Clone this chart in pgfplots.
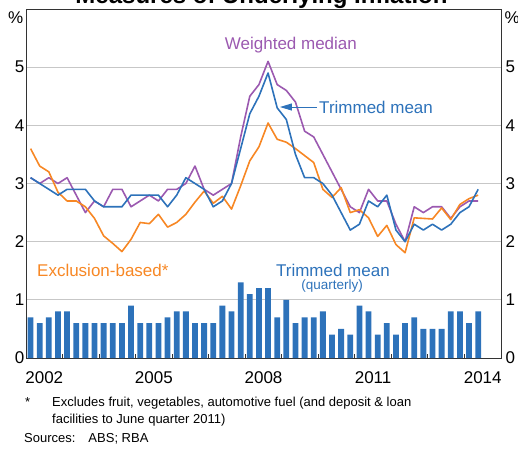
\documentclass[border=0pt]{standalone}
\usepackage{pgfplots}
\pgfplotsset{compat=1.18}
\usepackage{pgfplotstable}
\usepackage{fontspec}
\setmainfont{Liberation Sans}
\usetikzlibrary{arrows.meta}
\definecolor{rbablue}{RGB}{45,114,186}
\definecolor{rbapurple}{RGB}{155,89,176}
\definecolor{rbaorange}{RGB}{247,135,36}

\pgfplotstableread{
i tm wm ex q
0 3.1 3.1 3.6 0.7
1 3.0 3.0 3.3 0.6
2 2.9 3.1 3.2 0.7
3 2.8 3.0 2.85 0.8
4 2.9 3.1 2.7 0.8
5 2.9 2.8 2.7 0.6
6 2.9 2.5 2.6 0.6
7 2.7 2.7 2.4 0.6
8 2.6 2.6 2.1 0.6
9 2.6 2.9 1.97 0.6
10 2.6 2.9 1.83 0.6
11 2.8 2.6 2.04 0.9
12 2.8 2.7 2.33 0.6
13 2.8 2.8 2.31 0.6
14 2.8 2.7 2.47 0.6
15 2.6 2.9 2.25 0.7
16 2.8 2.9 2.33 0.8
17 3.1 3.0 2.47 0.8
18 3.0 3.3 2.68 0.6
19 2.9 2.9 2.87 0.6
20 2.6 2.8 2.66 0.6
21 2.7 2.9 2.78 0.9
22 3.0 3.0 2.56 0.8
23 3.6 3.8 2.96 1.3
24 4.2 4.5 3.39 1.1
25 4.5 4.7 3.63 1.2
26 4.9 5.1 4.04 1.2
27 4.3 4.7 3.76 0.7
28 4.1 4.6 3.71 1.0
29 3.5 4.4 3.6 0.6
30 3.1 3.9 3.48 0.7
31 3.1 3.8 3.36 0.7
32 3.0 3.5 2.9 0.8
33 2.8 3.2 2.76 0.4
34 2.5 2.9 2.93 0.5
35 2.2 2.6 2.5 0.4
36 2.3 2.5 2.55 0.9
37 2.7 2.9 2.41 0.8
38 2.6 2.7 2.09 0.4
39 2.8 2.7 2.28 0.6
40 2.2 2.3 1.95 0.4
41 2.0 2.0 1.81 0.6
42 2.3 2.6 2.41 0.7
43 2.2 2.5 2.4 0.5
44 2.3 2.6 2.39 0.5
45 2.2 2.6 2.58 0.5
46 2.3 2.4 2.38 0.8
47 2.5 2.6 2.64 0.8
48 2.6 2.7 2.74 0.6
49 2.9 2.7 2.8 0.8
}\data

\begin{document}
\begin{tikzpicture}[x=1pt,y=1pt]
\useasboundingbox (0,0) rectangle (518,-451);
\node[anchor=base, font=\fontsize{24}{24}\selectfont\bfseries, inner sep=0pt] at (261.5,-3.5) {Measures of Underlying Inflation};
\begin{axis}[
  at={(26pt,-358pt)}, anchor=south west,
  scale only axis, width=475pt, height=349pt,
  xmin=2002, xmax=2015, ymin=0, ymax=6,
  axis line style={black!80, line width=0.9pt},
  xtick={2002.5,2005.5,2008.5,2011.5,2014.5},
  xticklabels={2002,2005,2008,2011,2014},
  minor xtick={2003,2004,...,2014},
  xtick pos=left,
  ytick={0,1,2,3,4,5}, ytick pos=left,
  major tick length=0pt, minor tick length=4.5pt, tick align=inside,
  minor tick style={black!80, line width=0.9pt},
  ymajorgrids, major grid style={black!22, line width=0.8pt},
  xticklabel style={font=\fontsize{17}{17}\selectfont, anchor=north, inner sep=0pt, yshift=-13pt},
  yticklabel style={font=\fontsize{17}{17}\selectfont, anchor=east, inner sep=0pt, xshift=-1.5pt},
  /pgf/number format/assume math mode=true,
  clip=false,
]
\addplot[ybar, bar width=5.8pt, bar shift=0pt, fill=rbablue, draw=none] table[x expr=2002+(\thisrow{i}+0.5)/4, y=q] {\data};
\addplot[rbapurple, line width=1.6pt, line join=round] table[x expr=2002+(\thisrow{i}+0.5)/4, y=wm] {\data};
\addplot[rbaorange, line width=1.6pt, line join=round] table[x expr=2002+(\thisrow{i}+0.5)/4, y=ex] {\data};
\addplot[rbablue, line width=1.6pt, line join=round] table[x expr=2002+(\thisrow{i}+0.5)/4, y=tm] {\data};
\node[rbapurple, font=\fontsize{17}{17}\selectfont] at (axis cs:2009.25,5.38) {Weighted median};
\node[rbablue, anchor=west, inner sep=0pt, font=\fontsize{17}{17}\selectfont] at (axis cs:2010.02,4.315) {Trimmed mean};
\draw[rbablue, line width=1pt, -{Triangle[length=12pt,width=7pt]}] (axis cs:2009.96,4.315) -- (axis cs:2008.95,4.315);
\node[rbaorange, anchor=west, inner sep=0pt, font=\fontsize{17}{17}\selectfont] at (axis cs:2002.30,1.513) {Exclusion-based*};
\node[rbablue, font=\fontsize{17}{17}\selectfont] at (axis cs:2010.40,1.513) {Trimmed mean};
\node[rbablue, font=\fontsize{13.5}{13.5}\selectfont] at (axis cs:2010.38,1.238) {(quarterly)};
\end{axis}
\begin{axis}[
  at={(26pt,-358pt)}, anchor=south west,
  scale only axis, width=475pt, height=349pt,
  xmin=2002, xmax=2015, ymin=0, ymax=6,
  hide x axis, axis y line*=right,
  axis line style={black!80, line width=0.9pt},
  ytick={0,1,2,3,4,5}, major tick length=0pt,
  yticklabel style={font=\fontsize{17}{17}\selectfont, anchor=west, inner sep=0pt, xshift=4.5pt},
  /pgf/number format/assume math mode=true,
]
\end{axis}
\node[anchor=west, inner sep=0pt, font=\fontsize{17}{17}\selectfont] at (8,-17.5) {\%};
\node[anchor=west, inner sep=0pt, font=\fontsize{17}{17}\selectfont] at (504.5,-17.5) {\%};
\begin{scope}[every node/.style={anchor=base west, inner sep=0pt, font=\fontsize{13}{13}\selectfont}]
\node at (25,-406) {*};
\node at (52,-406) {Excludes fruit, vegetables, automotive fuel (and deposit \& loan};
\node at (52,-423.5) {facilities to June quarter 2011)};
\node at (24,-442.5) {Sources:\hspace{13pt}ABS; RBA};
\end{scope}
\end{tikzpicture}
\end{document}
